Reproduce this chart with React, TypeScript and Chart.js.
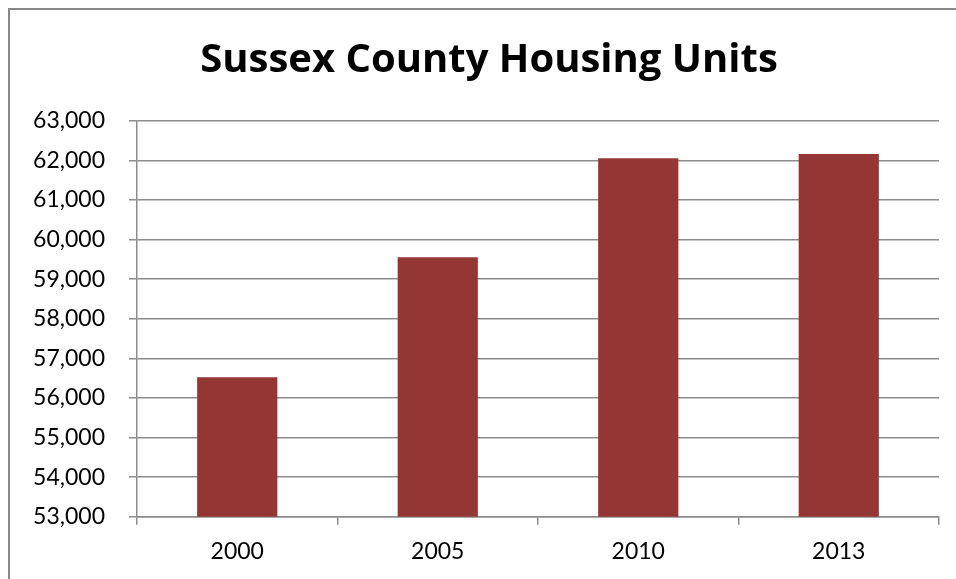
import React, { useEffect, useRef } from "react";
import { Chart, registerables } from "chart.js";

Chart.register(...registerables);

const TITLE = "Sussex County Housing Units";
const years = ["2000", "2005", "2010", "2013"];
const housingUnits = [56520, 59550, 62050, 62160];
const yMin = 53000;
const yMax = 63000;
const yStep = 1000;

const BAR_COLOR = "#943634";
const GRID_COLOR = "#8c8c8c";
const FONT = "Lato, 'Open Sans', sans-serif";
const TITLE_FONT = "'Open Sans', Lato, sans-serif";

export default function App() {
  const ref = useRef<HTMLCanvasElement | null>(null);

  useEffect(() => {
    if (!ref.current) return;
    const chart = new Chart(ref.current, {
      type: "bar",
      data: {
        labels: years,
        datasets: [
          {
            label: "Housing Units",
            data: housingUnits,
            backgroundColor: BAR_COLOR,
            borderWidth: 0,
            barPercentage: 0.4,
            categoryPercentage: 1,
          },
        ],
      },
      options: {
        animation: false,
        responsive: false,
        maintainAspectRatio: false,
        layout: { padding: { left: 0, right: 0, top: 0, bottom: 0 } },
        plugins: {
          legend: { display: false },
          tooltip: { enabled: false },
          title: {
            display: true,
            text: TITLE,
            color: "#000000",
            font: { family: TITLE_FONT, size: 40, weight: "bold", lineHeight: 1.2 },
            padding: { top: 26.5, bottom: 36.2 },
          },
        },
        scales: {
          x: {
            grid: {
              display: true,
              drawOnChartArea: false,
              drawTicks: true,
              tickLength: 8,
              color: GRID_COLOR,
              lineWidth: 1.5,
              offset: true,
            },
            border: { display: true, color: GRID_COLOR, width: 1.5 },
            ticks: {
              color: "#000000",
              font: { family: FONT, size: 23, lineHeight: 1.2 },
              padding: 13.2,
              maxRotation: 0,
            },
            afterFit: (scale: any) => {
              scale.height = 62.3;
            },
          },
          y: {
            min: yMin,
            max: yMax,
            grid: {
              display: true,
              drawOnChartArea: true,
              drawTicks: true,
              tickLength: 8,
              color: GRID_COLOR,
              lineWidth: 1.5,
            },
            border: { display: true, color: GRID_COLOR, width: 1.5 },
            ticks: {
              stepSize: yStep,
              color: "#000000",
              font: { family: FONT, size: 23, lineHeight: 1.2 },
              padding: 24,
              callback: (v: any) => Number(v).toLocaleString("en-US"),
            },
            afterFit: (scale: any) => {
              scale.width = 127;
            },
          },
          spacer: {
            type: "linear",
            position: "right",
            display: true,
            grid: { display: false },
            border: { display: false },
            ticks: { display: false },
            afterFit: (scale: any) => {
              scale.width = 29;
            },
          },
        },
      },
    });
    return () => chart.destroy();
  }, []);

  return (
    <div
      style={{
        position: "fixed",
        left: 8,
        top: 8,
        width: 948,
        height: 571,
        boxSizing: "border-box",
        borderTop: "2px solid #888888",
        borderLeft: "2px solid #888888",
        overflow: "hidden",
        background: "#ffffff",
      }}
    >
      <canvas ref={ref} width={958} height={569} style={{ display: "block" }} />
    </div>
  );
}
